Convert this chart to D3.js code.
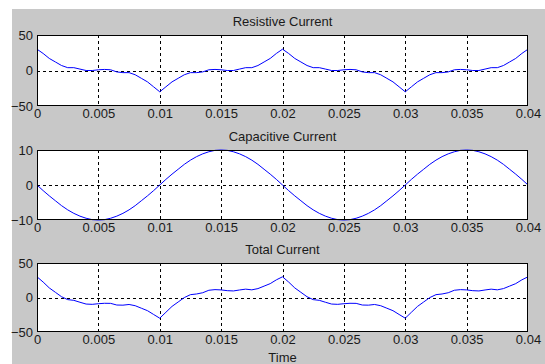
<!DOCTYPE html>
<html><head><meta charset="utf-8">
<script src="https://cdn.jsdelivr.net/npm/d3@7"></script>
<style>
html,body{margin:0;padding:0;background:#fff;}
svg{display:block;}
text{font-family:"Liberation Sans",Arial,sans-serif;}
</style></head>
<body>
<script>
// ---- data (t step 0.0005 s, 0 .. 0.04) ----
const timeStep = 0.0005;
const resistive = [30,
 24,17,12,7,4,4,2,0,0,1,1.5,1,-2,-3,-3,-6,-11,-16,-23,-30,
 -23,-16,-11,-6,-3,-3,-2,1,1.5,1,0,0,2,4,4,7,12,17,24,30,
 24,17,12,7,4,4,2,0,0,1,1.5,1,-2,-3,-3,-6,-11,-16,-23,-30,
 -23,-16,-11,-6,-3,-3,-2,1,1.5,1,0,0,2,4,4,7,12,17,24,30];
const capacitive = [0,
 -1.6,-3.1,-4.5,-5.9,-7.1,-8.1,-8.9,-9.5,-9.9,-10,-9.9,-9.5,-8.9,-8.1,-7.1,-5.9,-4.5,-3.1,-1.6,0,
 1.6,3.1,4.5,5.9,7.1,8.1,8.9,9.5,9.9,10,9.9,9.5,8.9,8.1,7.1,5.9,4.5,3.1,1.6,0,
 -1.6,-3.1,-4.5,-5.9,-7.1,-8.1,-8.9,-9.5,-9.9,-10,-9.9,-9.5,-8.9,-8.1,-7.1,-5.9,-4.5,-3.1,-1.6,0,
 1.6,3.1,4.5,5.9,7.1,8.1,8.9,9.5,9.9,10,9.9,9.5,8.9,8.1,7.1,5.9,4.5,3.1,1.6,0];
const total = [30,
 22.4,13.9,7.5,1.1,-3.1,-4.1,-6.9,-9.5,-9.9,-9,-8.4,-8.5,-10.9,-11.1,-10.1,-11.9,-15.5,-19.1,-24.6,-30,
 -21.4,-12.9,-6.5,-0.1,4.1,5.1,6.9,10.5,11.4,11,9.9,9.5,10.9,12.1,11.1,12.9,16.5,20.1,25.6,30,
 22.4,13.9,7.5,1.1,-3.1,-4.1,-6.9,-9.5,-9.9,-9,-8.4,-8.5,-10.9,-11.1,-10.1,-11.9,-15.5,-19.1,-24.6,-30,
 -21.4,-12.9,-6.5,-0.1,4.1,5.1,6.9,10.5,11.4,11,9.9,9.5,10.9,12.1,11.1,12.9,16.5,20.1,25.6,30];
const xTicks = [0,0.005,0.01,0.015,0.02,0.025,0.03,0.035,0.04];
const xTickLabels = ["0","0.005","0.01","0.015","0.02","0.025","0.03","0.035","0.04"];
const titles = ["Resistive Current","Capacitive Current","Total Current"];
const yDomains = [[-50,50],[-10,10],[-50,50]];
const yTicks = [[-50,0,50],[-10,0,10],[-50,0,50]];
const xLabel = "Time";

// ---- layout ----
const W = 545, H = 364;
const left = 37, right = 528;
const panels = [{top:35,bottom:106},{top:150,bottom:220},{top:263,bottom:332}];
const series = [resistive, capacitive, total];
const FS = 13, TXT = "#1a1a1a";

const svg = d3.select("body").append("svg").attr("width",W).attr("height",H);
svg.append("rect").attr("x",12).attr("y",9).attr("width",W-12).attr("height",H-9).attr("fill","#c8c8c8");

const x = d3.scaleLinear().domain([0,0.04]).range([left,right]);

panels.forEach((p,i)=>{
  const y = d3.scaleLinear().domain(yDomains[i]).range([p.bottom,p.top]);
  const g = svg.append("g");
  g.append("rect").attr("x",left).attr("y",p.top).attr("width",right-left).attr("height",p.bottom-p.top).attr("fill","#fff");
  // grid
  g.selectAll(".vg").data(xTicks.slice(1,-1)).join("line")
    .attr("x1",d=>Math.round(x(d))+0.5).attr("x2",d=>Math.round(x(d))+0.5)
    .attr("y1",p.top).attr("y2",p.bottom)
    .attr("stroke","#000").attr("stroke-dasharray","3,3").attr("stroke-width",1);
  g.selectAll(".hg").data(yTicks[i].slice(1,-1)).join("line")
    .attr("x1",left).attr("x2",right)
    .attr("y1",d=>Math.round(y(d))+0.5).attr("y2",d=>Math.round(y(d))+0.5)
    .attr("stroke","#000").attr("stroke-dasharray","3,3").attr("stroke-width",1);
  // line
  const line = d3.line().x((d,k)=>x(k*timeStep)).y(d=>y(d));
  g.append("path").datum(series[i]).attr("d",line).attr("fill","none").attr("stroke","#0000ff").attr("stroke-width",1);
  // box
  g.append("rect").attr("x",left+0.5).attr("y",p.top+0.5).attr("width",right-left-1).attr("height",p.bottom-p.top-1)
    .attr("fill","none").attr("stroke","#000").attr("stroke-width",1);
  // axes
  const xa = d3.axisBottom(x).tickValues(xTicks).tickFormat((d,k)=>xTickLabels[k]).tickSize(0).tickPadding(3);
  const gx = g.append("g").attr("transform",`translate(0,${p.bottom})`).call(xa);
  gx.select(".domain").remove();
  gx.selectAll("text").attr("font-size",FS).attr("fill",TXT).attr("font-family","Liberation Sans, Arial, sans-serif");
  const ya = d3.axisLeft(y).tickValues(yTicks[i]).tickSize(0).tickPadding(4);
  const gy = g.append("g").attr("transform",`translate(${left},0)`).call(ya);
  gy.select(".domain").remove();
  gy.selectAll("text").attr("font-size",FS).attr("fill",TXT).attr("font-family","Liberation Sans, Arial, sans-serif");
  // title
  g.append("text").attr("x",(left+right)/2).attr("y",p.top-9).attr("text-anchor","middle")
    .attr("font-size",FS).attr("fill",TXT).text(titles[i]);
});
svg.append("text").attr("x",(left+right)/2).attr("y",362).attr("text-anchor","middle")
  .attr("font-size",FS).attr("fill",TXT).text(xLabel);
</script>
</body></html>
